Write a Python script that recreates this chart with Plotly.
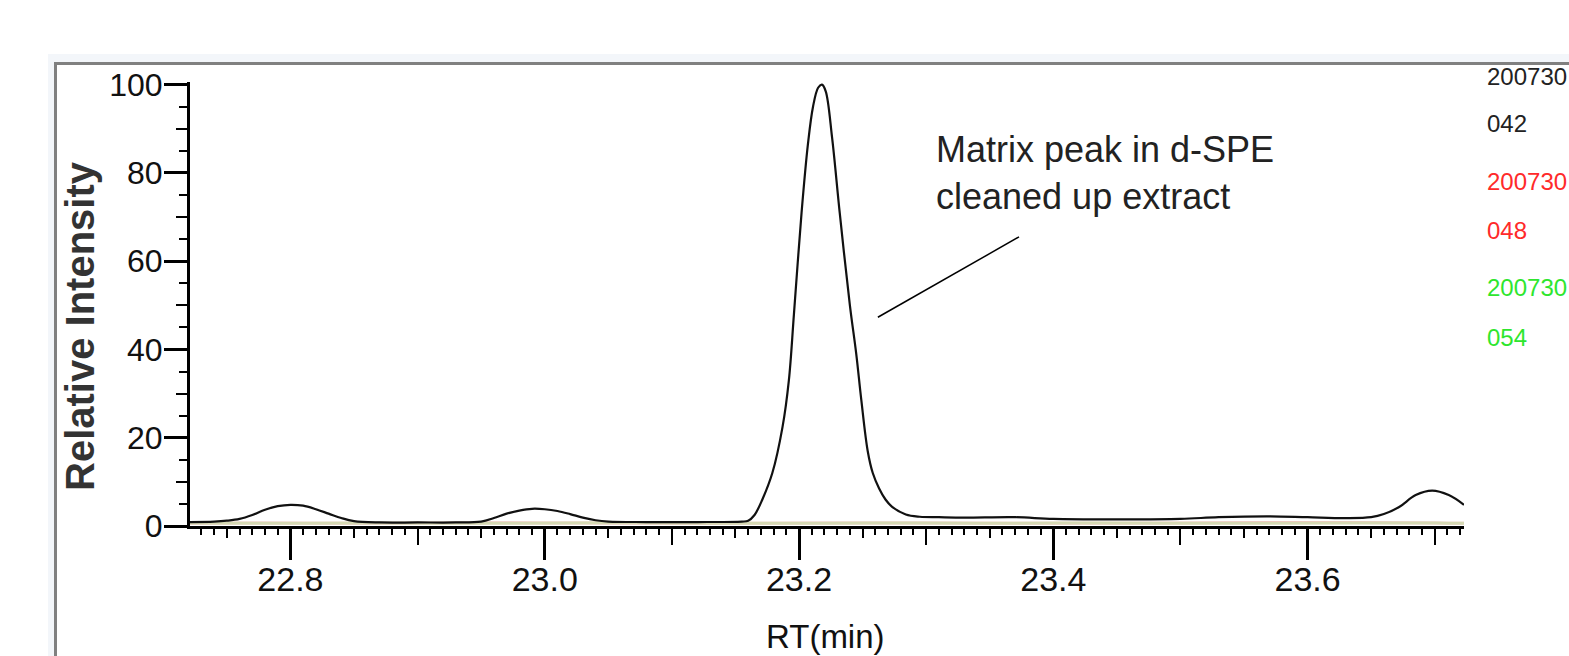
import plotly.graph_objects as go

# ---------------- data ----------------
rt_042 = [22.721, 22.74, 22.75, 22.76, 22.77, 22.78, 22.79, 22.80, 22.81, 22.82, 22.83, 22.84,
          22.85, 22.87, 22.90, 22.93, 22.95, 22.96, 22.97, 22.98, 22.99, 23.00, 23.01, 23.02,
          23.03, 23.04, 23.05, 23.08, 23.12, 23.155, 23.160, 23.165, 23.171, 23.179, 23.187,
          23.192, 23.196, 23.202, 23.207, 23.211, 23.215, 23.218, 23.221, 23.226, 23.232,
          23.240, 23.245, 23.249, 23.254, 23.258, 23.263, 23.268, 23.273, 23.284, 23.295,
          23.31, 23.33, 23.37, 23.40, 23.45, 23.50, 23.53, 23.57, 23.60, 23.63, 23.65, 23.66,
          23.672, 23.685, 23.698, 23.711, 23.723]
int_042 = [0.9, 1.0, 1.2, 1.6, 2.5, 3.7, 4.5, 4.8, 4.6, 3.8, 2.8, 1.8,
           1.1, 0.8, 0.8, 0.8, 1.0, 1.8, 2.8, 3.5, 3.9, 3.8, 3.4, 2.7,
           1.9, 1.3, 1.0, 0.9, 0.9, 1.0, 1.2, 2.5, 5.9, 12.0, 22.4,
           33.0, 48.0, 71.0, 86.5, 95.0, 99.3, 100.0, 98.5, 88.0, 71.0,
           50.0, 39.0, 28.5, 17.0, 12.0, 8.5, 6.0, 4.4, 2.6, 2.1,
           2.0, 1.9, 2.0, 1.6, 1.5, 1.6, 2.0, 2.2, 2.0, 1.8, 2.0, 2.7,
           4.3, 7.0, 8.0, 7.0, 4.8]

rt_048 = [22.721, 22.78, 22.85, 22.92, 23.00, 23.08, 23.15, 23.22, 23.30, 23.40, 23.50, 23.60, 23.70, 23.723]
int_048 = [0.6, 0.7, 0.6, 0.7, 0.7, 0.6, 0.6, 0.7, 0.7, 0.6, 0.7, 0.8, 0.7, 0.6]

rt_054 = [22.721, 22.79, 22.86, 22.94, 23.02, 23.10, 23.18, 23.26, 23.34, 23.44, 23.54, 23.64, 23.70, 23.723]
int_054 = [0.7, 0.6, 0.7, 0.6, 0.7, 0.7, 0.6, 0.7, 0.6, 0.7, 0.6, 0.7, 0.7, 0.6]

x_range = [22.721, 23.723]
y_range = [0, 100.6]
y_major = [0, 20, 40, 60, 80, 100]

sample_labels = ["200730", "042", "200730", "048", "200730", "054"]
sample_colors = ["#222222", "#222222", "#ff2a2a", "#ff2a2a", "#2ee62e", "#2ee62e"]
sample_label_y = [1.012, 0.906, 0.775, 0.665, 0.538, 0.425]

note_text = "Matrix peak in d-SPE<br>cleaned up extract"

ARIAL = "Liberation Sans, Arial, sans-serif"

fig = go.Figure()

fig.add_trace(go.Scatter(x=rt_048, y=int_048, mode="lines", line=dict(color="#f5c4c4", width=3),
                         line_shape="spline", showlegend=False, hoverinfo="skip"))
fig.add_trace(go.Scatter(x=rt_054, y=int_054, mode="lines", line=dict(color="#d6dab4", width=3),
                         line_shape="spline", showlegend=False, hoverinfo="skip"))
fig.add_trace(go.Scatter(x=rt_042, y=int_042, mode="lines", line=dict(color="#111111", width=2.2),
                         line_shape="spline", showlegend=False, hoverinfo="skip"))
# helper (empty) traces so that the extra tick-level axes are drawn
fig.add_trace(go.Scatter(x=[None], y=[None], xaxis="x2", yaxis="y", showlegend=False, hoverinfo="skip"))
fig.add_trace(go.Scatter(x=[None], y=[None], xaxis="x3", yaxis="y", showlegend=False, hoverinfo="skip"))
fig.add_trace(go.Scatter(x=[None], y=[None], xaxis="x", yaxis="y2", showlegend=False, hoverinfo="skip"))

common_x = dict(range=x_range, showgrid=False, zeroline=False, tick0=22.8)
fig.update_layout(
    width=1569, height=656,
    margin=dict(l=190, r=105, t=82, b=130),
    paper_bgcolor="white", plot_bgcolor="white",
    xaxis=dict(**common_x, dtick=0.2, tickformat=".1f", ticks="outside", ticklen=31, tickwidth=3,
               tickcolor="black", showline=True, linewidth=3, linecolor="black",
               tickfont=dict(family=ARIAL, size=34, color="#111111"), ticklabelstandoff=-10,
               minor=dict(dtick=0.01, ticks="outside", ticklen=6, tickwidth=2, tickcolor="black",
                          showgrid=False),
               anchor="y"),
    xaxis2=dict(**common_x, dtick=0.1, overlaying="x", anchor="y", side="bottom", ticks="outside",
                ticklen=18, tickwidth=2, tickcolor="black", showticklabels=False, showline=False),
    xaxis3=dict(**common_x, dtick=0.05, overlaying="x", anchor="y", side="bottom", ticks="outside",
                ticklen=11, tickwidth=2, tickcolor="black", showticklabels=False, showline=False),
    yaxis=dict(range=y_range, tickvals=y_major, ticks="outside", ticklen=23, tickwidth=3,
               tickcolor="black", showline=True, linewidth=3, linecolor="black", showgrid=False,
               zeroline=False, tickfont=dict(family=ARIAL, size=32, color="#111111"),
               ticklabelstandoff=-5,
               minor=dict(dtick=5, tick0=0, ticks="outside", ticklen=8, tickwidth=2,
                          tickcolor="black", showgrid=False),
               anchor="x"),
    yaxis2=dict(range=y_range, tick0=0, dtick=10, overlaying="y", anchor="x", side="left",
                ticks="outside", ticklen=13, tickwidth=2, tickcolor="black",
                showticklabels=False, showline=False, showgrid=False, zeroline=False),
    hovermode=False,
)

# window frame decoration (light band + grey border)
def px_x(p):
    return (p - 190) / 1274.0

def px_y(p):
    return (526 - p) / 444.0

fig.add_shape(type="rect", xref="paper", yref="paper", x0=px_x(48), x1=px_x(1600), y0=px_y(54), y1=px_y(700),
              fillcolor="#f3f6fa", line_width=0, layer="below")
fig.add_shape(type="rect", xref="paper", yref="paper", x0=px_x(56), x1=px_x(1600), y0=px_y(64), y1=px_y(700),
              fillcolor="white", line_width=0, layer="below")
fig.add_shape(type="line", xref="paper", yref="paper", x0=px_x(54), x1=px_x(1600), y0=px_y(63.5), y1=px_y(63.5),
              line=dict(color="#808080", width=3), layer="below")
fig.add_shape(type="line", xref="paper", yref="paper", x0=px_x(55.5), x1=px_x(55.5), y0=px_y(62), y1=px_y(700),
              line=dict(color="#808080", width=3), layer="below")

# annotation pointer line
fig.add_shape(type="line", xref="x", yref="y", x0=23.262, y0=47.3, x1=23.373, y1=65.5,
              line=dict(color="black", width=1.5))

fig.add_annotation(x=23.306, y=90.4, xref="x", yref="y", text=note_text, showarrow=False,
                   xanchor="left", yanchor="top", align="left",
                   font=dict(family=ARIAL, size=36, color="#222222"))

# axis titles
fig.add_annotation(x=px_x(80), y=px_y(326), xref="paper", yref="paper", text="Relative Intensity",
                   textangle=-90, showarrow=False, xanchor="center", yanchor="middle",
                   font=dict(family=ARIAL, size=40, color="#333333", weight="bold"))
fig.add_annotation(x=px_x(825), y=px_y(636), xref="paper", yref="paper", text="RT(min)",
                   showarrow=False, xanchor="center", yanchor="middle",
                   font=dict(family=ARIAL, size=33, color="#111111"))

# sample labels on the right
for txt, col, yy in zip(sample_labels, sample_colors, sample_label_y):
    fig.add_annotation(x=px_x(1485), y=yy, xref="paper", yref="paper", text=txt, showarrow=False,
                       xanchor="left", yanchor="middle", font=dict(family=ARIAL, size=24, color=col))

fig.write_html("out.html", config={"displayModeBar": False},
               post_script="document.body.style.margin='0px';")
